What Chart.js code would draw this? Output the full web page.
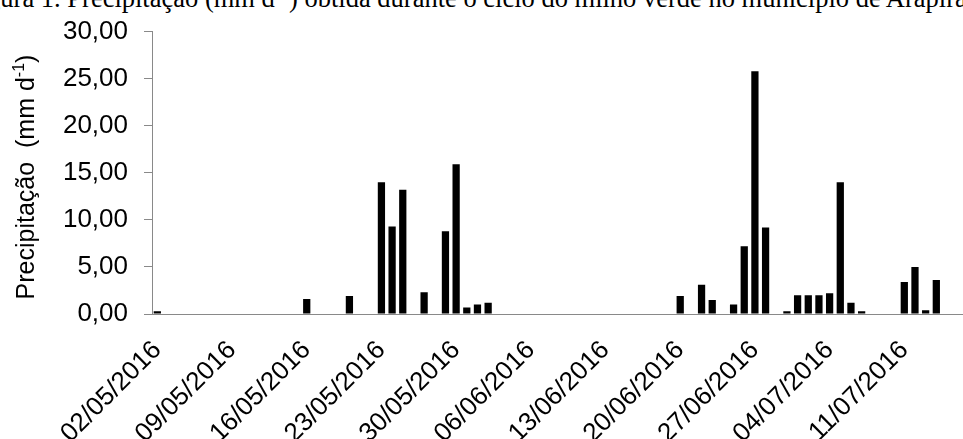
<!DOCTYPE html>
<html>
<head>
<meta charset="utf-8">
<script src="https://cdn.jsdelivr.net/npm/chart.js"></script>
<style>
  body { margin: 0; background: #fff; }
  #wrap { position: relative; width: 963px; height: 439px; overflow: hidden; }
  #cap { position: absolute; left: -35px; top: -15px; font: 26.5px 'Liberation Serif', serif; line-height: 27px; white-space: nowrap; color: #000; }
  #cap sup { font-size: 17px; line-height: 0; }
  #chuva { position: absolute; left: 0; top: 0; }
</style>
</head>
<body>
<div id="wrap">
  <div id="cap">Figura 1. Precipitação (mm d<sup>-1</sup>) obtida durante o ciclo do milho verde no município de Arapiraca</div>
  <canvas id="chuva" width="963" height="439"></canvas>
</div>
<script>
// daily rainfall, 02/05/2016 .. 16/07/2016 (one row per week)
const START_DAY = '2016-05-02';
const rain = [
  0.3, 0, 0, 0, 0, 0, 0,
  0, 0, 0, 0, 0, 0, 0,
  1.6, 0, 0, 0, 1.9, 0, 0,
  14.0, 9.3, 13.2, 0, 2.3, 0, 8.8,
  15.9, 0.7, 1.0, 1.2, 0, 0, 0,
  0, 0, 0, 0, 0, 0, 0,
  0, 0, 0, 0, 0, 0, 0,
  1.9, 0, 3.1, 1.5, 0, 1.0, 7.2,
  25.8, 9.2, 0, 0.3, 2.0, 2.0, 2.0,
  2.2, 14.0, 1.2, 0.3, 0, 0, 0,
  3.4, 5.0, 0.4, 3.6, 0, 0
];
const tickLabels = ['02/05/2016', '09/05/2016', '16/05/2016', '23/05/2016', '30/05/2016', '06/06/2016',
  '13/06/2016', '20/06/2016', '27/06/2016', '04/07/2016', '11/07/2016'];
const yTicks = [0, 5, 10, 15, 20, 25, 30];

(function () {
  const AXIS = '#898989';
  const FONT = "'Liberation Sans', Arial, sans-serif";

  // one category per day
  function dayLabels(n) {
    const out = [];
    const d0 = new Date(START_DAY + 'T12:00:00');
    for (let i = 0; i < n; i++) {
      const d = new Date(d0.getTime() + i * 86400000);
      const dd = String(d.getDate()).padStart(2, '0');
      const mm = String(d.getMonth() + 1).padStart(2, '0');
      out.push(dd + '/' + mm + '/' + d.getFullYear());
    }
    return out;
  }

  // y title with a real superscript
  const yTitle = {
    id: 'yTitle',
    afterDraw(chart) {
      const ctx = chart.ctx;
      const parts = [
        { t: 'Precipitação  (mm d', size: 25, dy: 0 },
        { t: '-1', size: 16, dy: -10 },
        { t: ')', size: 25, dy: 0 }
      ];
      ctx.save();
      let w = 0;
      parts.forEach(p => { ctx.font = p.size + 'px ' + FONT; p.w = ctx.measureText(p.t).width; w += p.w; });
      ctx.translate(34, 177);
      ctx.rotate(-Math.PI / 2);
      ctx.fillStyle = '#000';
      ctx.textBaseline = 'alphabetic';
      let x = -w / 2;
      parts.forEach(p => { ctx.font = p.size + 'px ' + FONT; ctx.fillText(p.t, x, p.dy); x += p.w; });
      ctx.restore();
    }
  };

  const labels = dayLabels(rain.length);

  new Chart(document.getElementById('chuva'), {
    type: 'bar',
    data: {
      labels: labels,
      datasets: [{ data: rain, backgroundColor: '#000', borderWidth: 0, barPercentage: 0.68, categoryPercentage: 1 }]
    },
    options: {
      responsive: false,
      devicePixelRatio: 1,
      animation: false,
      layout: { padding: { top: 26, right: 0, left: 0, bottom: 0 } },
      plugins: { legend: { display: false }, tooltip: { enabled: false }, title: { display: false } },
      scales: {
        x: {
          grid: { display: false },
          border: { display: true, color: AXIS, width: 1 },
          ticks: {
            autoSkip: false, maxRotation: 45, minRotation: 45, padding: 13,
            color: '#000', font: { family: FONT, size: 26 },
            callback: function (v) { const l = this.getLabelForValue(v); return tickLabels.includes(l) ? l : null; }
          },
          afterFit: s => { s.height = 125; s.paddingLeft = 0; s.paddingRight = 0; }
        },
        y: {
          min: 0, max: 30,
          afterBuildTicks: s => { s.ticks = yTicks.map(v => ({ value: v })); },
          grid: { display: true, drawOnChartArea: false, drawTicks: true, tickLength: 8, color: AXIS },
          border: { display: true, color: AXIS, width: 1 },
          ticks: {
            padding: 16, color: '#000', font: { family: FONT, size: 26 },
            callback: v => v.toFixed(2).replace('.', ',')
          },
          afterFit: s => { s.width = 152; }
        }
      }
    },
    plugins: [yTitle]
  });
})();
</script>
</body>
</html>
